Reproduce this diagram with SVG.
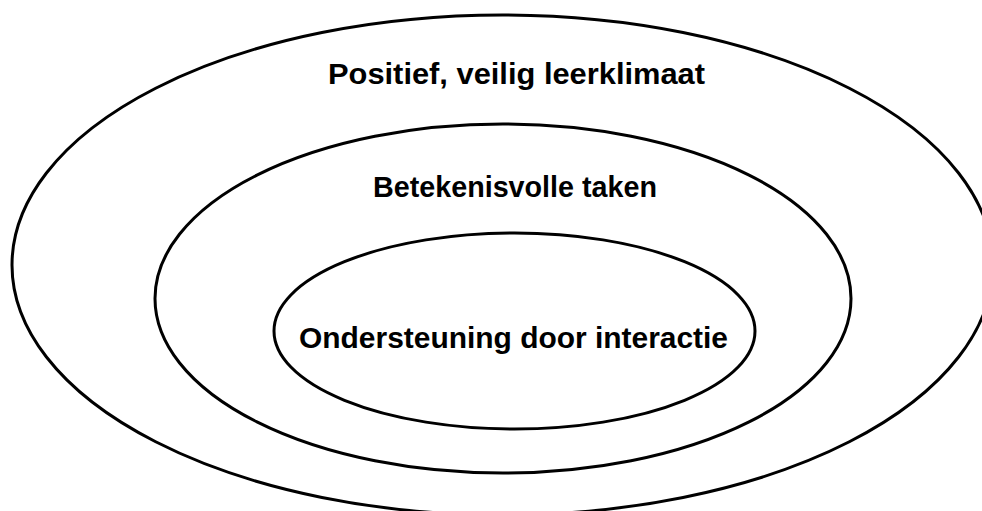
<svg xmlns="http://www.w3.org/2000/svg" width="982" height="511" viewBox="0 0 982 511">
<style>
.ring{fill:none;stroke:#000;stroke-width:3}
.lbl{font-family:"Liberation Sans",Arial,sans-serif;font-weight:bold;font-size:29px;fill:#000;text-anchor:middle}
</style>
<rect width="982" height="511" fill="#fff"/>
<g id="outer">
<ellipse class="ring" cx="502.5" cy="265" rx="490.5" ry="250"/>
<text class="lbl" x="516.5" y="84" textLength="377" lengthAdjust="spacingAndGlyphs">Positief, veilig leerklimaat</text>
</g>
<g id="middle">
<ellipse class="ring" cx="503" cy="298.5" rx="348" ry="174.5"/>
<text class="lbl" x="515" y="197" textLength="284" lengthAdjust="spacingAndGlyphs">Betekenisvolle taken</text>
</g>
<g id="inner">
<ellipse class="ring" cx="514.5" cy="331" rx="240.5" ry="98"/>
<text class="lbl" x="513.5" y="348" textLength="429" lengthAdjust="spacingAndGlyphs">Ondersteuning door interactie</text>
</g>
<g id="connectors"></g>
</svg>
